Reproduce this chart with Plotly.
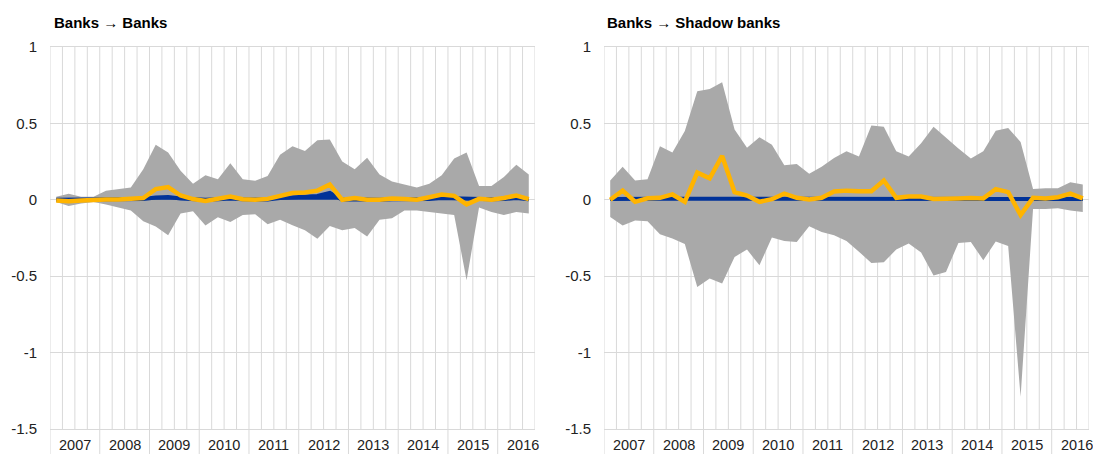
import plotly.graph_objects as go

years = [2007, 2008, 2009, 2010, 2011, 2012, 2013, 2014, 2015, 2016]
quarters = [f"{y}Q{q}" for y in years for q in (1, 2, 3, 4)][:39]
titles = ["Banks \u2192 Banks", "Banks \u2192 Shadow banks"]
y_ticks = [1, 0.5, 0, -0.5, -1, -1.5]
y_tick_text = ["1", "0.5", "0", "-0.5", "-1", "-1.5"]

# Banks -> Banks
bb_upper = [0.02, 0.04, 0.02, 0.02, 0.06, 0.07, 0.08, 0.20, 0.36, 0.31,
            0.19, 0.105, 0.16, 0.135, 0.24, 0.135, 0.125, 0.155, 0.295, 0.35,
            0.32, 0.39, 0.395, 0.25, 0.20, 0.275, 0.165, 0.12, 0.10, 0.08,
            0.105, 0.16, 0.27, 0.31, 0.09, 0.09, 0.15, 0.23, 0.165]
bb_lower = [-0.015, -0.04, -0.025, -0.015, -0.03, -0.05, -0.07, -0.14, -0.175, -0.232,
            -0.09, -0.075, -0.168, -0.115, -0.145, -0.10, -0.095, -0.16, -0.13, -0.167,
            -0.20, -0.255, -0.172, -0.20, -0.185, -0.24, -0.13, -0.12, -0.07, -0.07,
            -0.08, -0.09, -0.10, -0.526, -0.05, -0.08, -0.10, -0.08, -0.09]
bb_median = [0.0, 0.0, 0.0, 0.0, 0.0, 0.0, 0.0, 0.005, 0.015, 0.018,
             0.008, 0.003, 0.0, 0.003, 0.008, 0.003, 0.0, 0.002, 0.012, 0.018,
             0.022, 0.025, 0.045, 0.0, 0.003, 0.0, 0.0, 0.003, 0.002, 0.0,
             0.005, 0.012, 0.01, 0.003, 0.005, 0.003, 0.005, 0.012, 0.003]
bb_actual = [-0.005, -0.01, -0.005, 0.0, 0.002, 0.002, 0.004, 0.012, 0.07, 0.083,
             0.028, 0.005, -0.008, 0.004, 0.022, 0.004, 0.0, 0.006, 0.028, 0.044,
             0.048, 0.06, 0.10, 0.0, 0.012, 0.0, 0.0, 0.008, 0.005, 0.0,
             0.017, 0.035, 0.026, -0.03, 0.006, 0.0, 0.012, 0.028, 0.005]

# Banks -> Shadow banks
bs_upper = [0.126, 0.217, 0.126, 0.135, 0.35, 0.31, 0.45, 0.71, 0.725, 0.77,
            0.46, 0.34, 0.41, 0.36, 0.226, 0.235, 0.17, 0.217, 0.274, 0.317,
            0.283, 0.487, 0.478, 0.317, 0.283, 0.37, 0.478, 0.404, 0.335, 0.27,
            0.317, 0.452, 0.47, 0.378, 0.07, 0.076, 0.076, 0.115, 0.10]
bs_lower = [-0.113, -0.168, -0.135, -0.14, -0.225, -0.254, -0.29, -0.57, -0.515, -0.548,
            -0.374, -0.326, -0.428, -0.247, -0.27, -0.276, -0.173, -0.21, -0.232, -0.27,
            -0.34, -0.413, -0.408, -0.326, -0.286, -0.345, -0.496, -0.472, -0.282, -0.276,
            -0.395, -0.273, -0.302, -1.289, -0.06, -0.06, -0.055, -0.07, -0.08]
bs_median = [0.005, 0.007, 0.006, 0.006, 0.007, 0.007, 0.007, 0.008, 0.009, 0.009,
             0.008, 0.007, 0.006, 0.006, 0.006, 0.006, 0.006, 0.007, 0.007, 0.007,
             0.007, 0.007, 0.007, 0.006, 0.006, 0.006, 0.006, 0.006, 0.006, 0.006,
             0.006, 0.008, 0.008, 0.006, 0.005, 0.005, 0.005, 0.006, 0.005]
bs_actual = [0.0, 0.06, -0.013, 0.01, 0.013, 0.035, -0.013, 0.178, 0.14, 0.287,
             0.05, 0.028, -0.013, 0.004, 0.04, 0.013, 0.002, 0.013, 0.054, 0.06,
             0.056, 0.056, 0.126, 0.013, 0.022, 0.022, 0.006, 0.004, 0.009, 0.011,
             0.009, 0.07, 0.05, -0.10, 0.013, 0.009, 0.017, 0.04, 0.009]

GREY = "#a9a9a9"
BLUE = "#003299"
YELLOW = "#ffb400"
GRID = "#d9d9d9"
TXT = "#222222"
FONT = "Liberation Sans, Arial, sans-serif"

W, H = 1093, 454
xdom = [[50 / W, 535 / W], [604 / W, 1089 / W]]
ydom = [25 / H, 407 / H]

idx = list(range(len(quarters)))
fig = go.Figure()

panels = [(bb_upper, bb_lower, bb_median, bb_actual),
          (bs_upper, bs_lower, bs_median, bs_actual)]

shapes = []
annotations = []
for p, (up, lo, med, act) in enumerate(panels):
    xa = "x" if p == 0 else "x2"
    ya = "y" if p == 0 else "y2"
    fig.add_trace(go.Scatter(x=idx, y=lo, xaxis=xa, yaxis=ya, mode="lines",
                             line=dict(width=0, color=GREY), showlegend=False,
                             hovertext=quarters))
    fig.add_trace(go.Scatter(x=idx, y=up, xaxis=xa, yaxis=ya, mode="lines",
                             line=dict(width=0, color=GREY), fill="tonexty",
                             fillcolor=GREY, showlegend=False, hovertext=quarters))
    fig.add_trace(go.Scatter(x=idx, y=med, xaxis=xa, yaxis=ya, mode="lines",
                             line=dict(width=4, color=BLUE), fill="tozeroy",
                             fillcolor=BLUE, showlegend=False, hovertext=quarters))
    fig.add_trace(go.Scatter(x=idx, y=act, xaxis=xa, yaxis=ya, mode="lines",
                             line=dict(width=4.5, color=YELLOW), showlegend=False,
                             hovertext=quarters))
    for k in range(len(quarters) + 1):
        shapes.append(dict(type="line", xref=xa, yref=ya, x0=k - 0.5, x1=k - 0.5,
                           y0=-1.5, y1=1, line=dict(color=GRID, width=1), layer="below"))
    for j, yr in enumerate(years):
        xb = j * 4 - 0.5
        shapes.append(dict(type="line", xref=xa, yref="paper", x0=xb, x1=xb,
                           y0=ydom[0], y1=0, line=dict(color=GRID, width=1)))
        annotations.append(dict(text=str(yr), xref=xa, yref="paper", x=xb + 2,
                                y=9.5 / H, xanchor="center", yanchor="middle",
                                showarrow=False, font=dict(size=14.5, color=TXT, family=FONT)))
    annotations.append(dict(text="<b>" + titles[p] + "</b>", xref="paper", yref="paper",
                            x=(52 if p == 0 else 605) / W, y=1 - 23 / H,
                            xanchor="left", yanchor="middle", showarrow=False,
                            font=dict(size=15, color="#000000", family=FONT)))

axis_x = dict(range=[-0.5, 38.5], showgrid=False, zeroline=False, showticklabels=False,
              ticks="", showline=True, mirror=True, linecolor=GRID, linewidth=1,
              automargin=False)
axis_y = dict(range=[-1.5, 1], tickvals=y_ticks, ticktext=y_tick_text, showgrid=True,
              gridcolor=GRID, gridwidth=1, zeroline=False, ticks="", showline=False,
              tickfont=dict(size=15, color=TXT, family=FONT), ticklabelstandoff=12,
              automargin=False)

fig.update_layout(
    width=W, height=H, autosize=False, margin=dict(l=0, r=0, t=0, b=0, pad=0),
    paper_bgcolor="white", plot_bgcolor="white",
    xaxis=dict(domain=xdom[0], anchor="y", **axis_x),
    xaxis2=dict(domain=xdom[1], anchor="y2", **axis_x),
    yaxis=dict(domain=ydom, anchor="x", **axis_y),
    yaxis2=dict(domain=ydom, anchor="x2", **axis_y),
    shapes=shapes, annotations=annotations, showlegend=False,
    font=dict(family=FONT),
)

fig.write_html(
    "out.html",
    config={"responsive": False, "displayModeBar": False},
    post_script="document.body.style.margin='0';document.body.style.padding='0';"
                "document.body.style.overflow='hidden';",
)
